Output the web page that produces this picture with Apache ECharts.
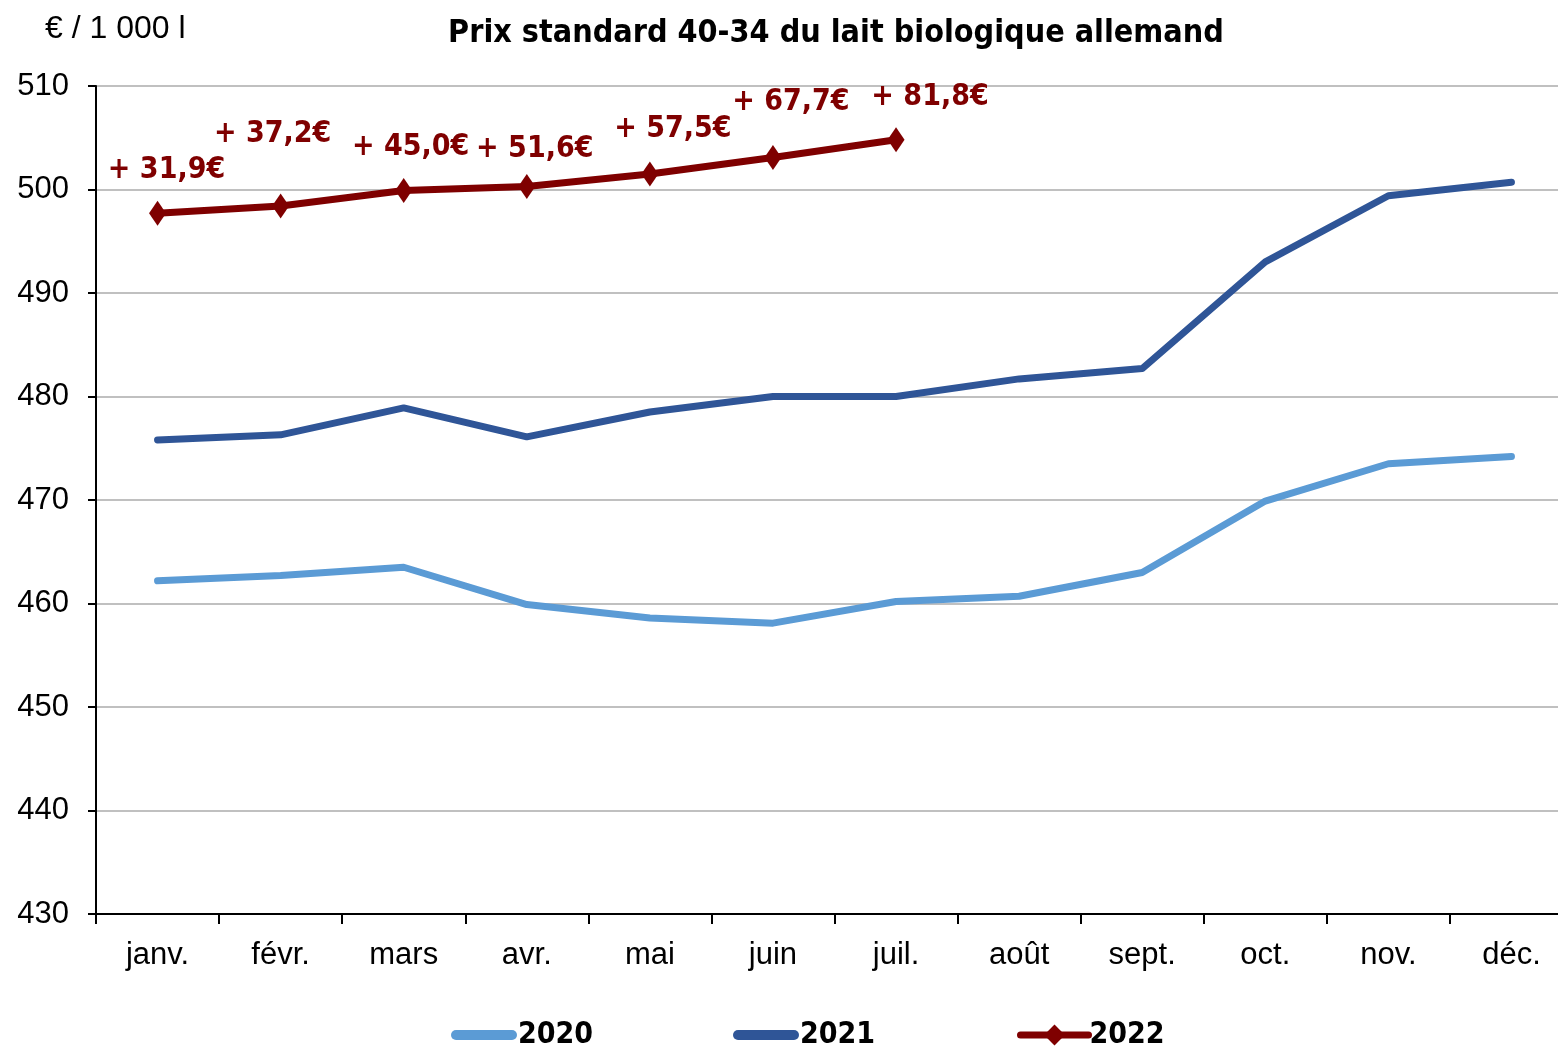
<!DOCTYPE html>
<html><head><meta charset="utf-8">
<script src="https://cdn.jsdelivr.net/npm/echarts@6/dist/echarts.min.js"></script>
<style>html,body{margin:0;padding:0;background:#fff;overflow:hidden}#c{width:1558px;height:1048px}</style>
</head><body><div id="c"></div>
<script>
var months = ['janv.','févr.','mars','avr.','mai','juin','juil.','août','sept.','oct.','nov.','déc.'];
var s2020 = [462.2,462.7,463.5,459.9,458.6,458.1,460.2,460.7,463.0,469.9,473.5,474.2];
var s2021 = [475.8,476.3,478.9,476.1,478.5,480.0,480.0,481.7,482.7,493.0,499.4,500.7];
var s2022 = [497.7,498.4,499.9,500.3,501.5,503.1,504.8];
var labels2022 = ['+ 31,9€','+ 37,2€','+ 45,0€','+ 51,6€','+ 57,5€','+ 67,7€','+ 81,8€'];
var yTicks = [430,440,450,460,470,480,490,500,510];

var labelOffsets = [[9,-43],[-8,-72],[7,-43],[8,-37],[23,-45],[18,-55],[34,-43]];
var narrow = '"DejaVu Sans Condensed", "Liberation Sans Narrow", "Arial Narrow", sans-serif';
var regular = '"Liberation Sans", Arial, sans-serif';
var capPath = 'path://M5,0 L61,0 A5,5 0 0 1 61,10 L5,10 A5,5 0 0 1 5,0 Z';

var chart = echarts.init(document.getElementById('c'));
chart.setOption({
  animation:false,
  backgroundColor:'#fff',
  title:[
    {text:'Prix standard 40-34 du lait biologique allemand', left:831, top:13, textAlign:'center',
     textStyle:{fontFamily:narrow, fontWeight:'bold', fontSize:32, color:'#000'}},
    {text:'€ / 1 000 l', left:40, top:8,
     textStyle:{fontFamily:regular, fontWeight:'normal', fontSize:32, color:'#000'}}
  ],
  grid:{left:96, right:-15, top:86, bottom:134, containLabel:false, outerBoundsMode:'none'},
  legend:[
    {left:446, top:1015, itemWidth:66, itemHeight:10, data:[{name:'2020', icon:capPath}],
     textStyle:{fontFamily:narrow, fontWeight:'bold', fontSize:30, color:'#000', padding:[0,0,0,-4]}},
    {left:728, top:1015, itemWidth:66, itemHeight:10, data:[{name:'2021', icon:capPath}],
     textStyle:{fontFamily:narrow, fontWeight:'bold', fontSize:30, color:'#000', padding:[0,0,0,-4]}},
    {left:1012, top:1015, itemWidth:68, itemHeight:26, data:[{name:'2022'}],
     lineStyle:{width:7, cap:'round'},
     textStyle:{fontFamily:narrow, fontWeight:'bold', fontSize:30, color:'#000', padding:[0,0,0,-4]}}
  ],
  xAxis:{
    type:'category', data:months, boundaryGap:true,
    axisLine:{lineStyle:{color:'#000', width:2}},
    axisTick:{show:true, length:10, inside:false, lineStyle:{color:'#000', width:2}},
    axisLabel:{fontFamily:regular, fontSize:31, color:'#000', margin:26}
  },
  yAxis:{
    type:'value', min:yTicks[0], max:yTicks[yTicks.length-1], interval:10,
    axisLine:{show:true, lineStyle:{color:'#000', width:2}},
    axisTick:{show:true, length:8, lineStyle:{color:'#000', width:2}},
    axisLabel:{fontFamily:regular, fontSize:31, color:'#000', margin:27},
    splitLine:{show:true, lineStyle:{color:'#C0C0C0', width:2}}
  },
  series:[
    {name:'2020', type:'line', data:s2020, showSymbol:false, symbol:'none',
     lineStyle:{color:'#5B9BD5', width:7, cap:'round', join:'round'}, itemStyle:{color:'#5B9BD5'}},
    {name:'2021', type:'line', data:s2021, showSymbol:false, symbol:'none',
     lineStyle:{color:'#2F5597', width:7, cap:'round', join:'round'}, itemStyle:{color:'#2F5597'}},
    {name:'2022', type:'line', symbol:'diamond', symbolSize:[17,25],
     lineStyle:{color:'#7F0000', width:7, cap:'round', join:'round'}, itemStyle:{color:'#7F0000'},
     data:s2022.map(function(v,i){
       return {value:v, label:{show:true, formatter:labels2022[i], position:'inside',
         offset:labelOffsets[i], fontFamily:narrow, fontWeight:'bold', fontSize:30, color:'#7F0000'}};
     })}
  ]
});
</script></body></html>
